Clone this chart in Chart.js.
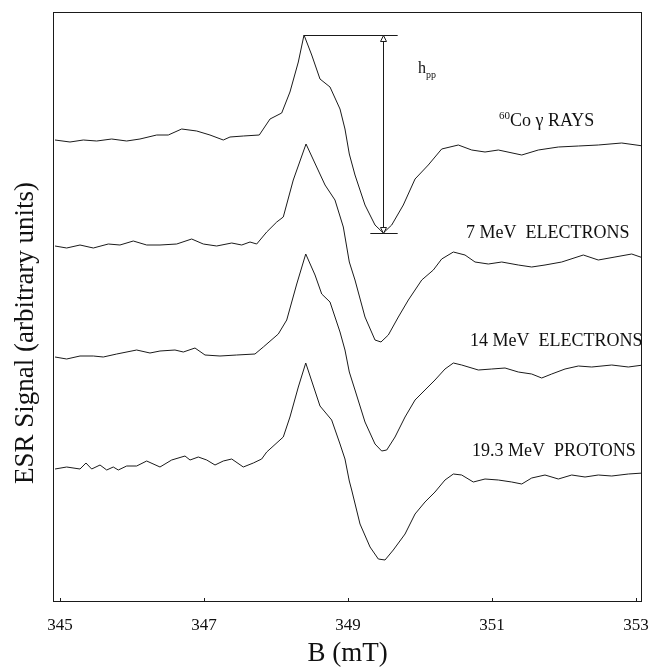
<!DOCTYPE html>
<html>
<head>
<meta charset="utf-8">
<title>ESR spectra</title>
<script src="https://cdn.jsdelivr.net/npm/chart.js@4.4.1/dist/chart.umd.min.js"></script>
<style>
	html, body { margin: 0; padding: 0; background: #fff; }
	#esrChart { display: block; }
</style>
</head>
<body>
<canvas id="esrChart" width="650" height="671"></canvas>
<script>
//ESR spectra after different irradiations, stacked with a vertical offset

//field axis ticks (mT)
const bTicks = [345, 347, 349, 351, 353];

//60Co gamma rays
const coField = [344.931, 345.139, 345.324, 345.510, 345.718, 345.926, 346.111, 346.343, 346.504, 346.690,
	346.899, 347.083, 347.268, 347.361, 347.546, 347.768, 347.917, 348.079, 348.194, 348.310,
	348.389, 348.496, 348.611, 348.750, 348.889, 348.958, 349.018, 349.097, 349.236, 349.375,
	349.490, 349.607, 349.768, 349.931, 350.115, 350.301, 350.532, 350.718, 350.903, 351.088,
	351.413, 351.643, 351.921, 352.199, 352.476, 352.801, 353.101];
const coSignal = [462, 460, 462, 461, 463, 461, 463, 467, 467, 473,
	471, 467, 462, 465, 466, 467, 483, 489, 510, 540,
	567, 547, 523, 515, 493, 473, 448, 427, 397, 377,
	369, 377, 397, 423, 437, 453, 457, 452, 450, 452,
	447, 452, 455, 456, 457, 459, 456];

//7 MeV electrons
const e7Field = [344.931, 345.093, 345.278, 345.463, 345.671, 345.833, 346.018, 346.204, 346.389, 346.621,
	346.829, 346.990, 347.176, 347.385, 347.524, 347.639, 347.732, 347.871, 348.010, 348.101,
	348.240, 348.417, 348.565, 348.681, 348.819, 348.935, 349.018, 349.097, 349.236, 349.375,
	349.458, 349.560, 349.699, 349.838, 350.024, 350.185, 350.301, 350.463, 350.625, 350.764,
	350.949, 351.135, 351.365, 351.551, 351.736, 351.968, 352.268, 352.476, 352.708, 352.940, 353.101];
const e7Signal = [356, 354, 357, 354, 358, 357, 361, 357, 357, 358,
	363, 358, 356, 359, 357, 360, 358, 370, 380, 385,
	422, 458, 435, 417, 402, 375, 340, 322, 285, 262,
	260, 267, 285, 302, 322, 332, 343, 350, 347, 340,
	338, 340, 337, 335, 337, 340, 347, 342, 345, 348, 344];

//14 MeV electrons
const e14Field = [344.931, 345.093, 345.278, 345.463, 345.601, 345.788, 346.065, 346.250, 346.389, 346.597,
	346.713, 346.875, 347.014, 347.222, 347.454, 347.708, 347.824, 348.032, 348.149, 348.288,
	348.413, 348.542, 348.635, 348.750, 348.889, 348.958, 349.018, 349.097, 349.236, 349.375,
	349.468, 349.538, 349.653, 349.792, 349.931, 350.069, 350.208, 350.347, 350.463, 350.579,
	350.810, 350.996, 351.181, 351.365, 351.551, 351.690, 351.829, 352.014, 352.199, 352.385,
	352.663, 352.893, 353.101];
const e14Signal = [245, 243, 246, 246, 245, 248, 252, 249, 251, 252,
	250, 254, 247, 246, 247, 248, 255, 268, 282, 318,
	348, 327, 308, 300, 270, 252, 230, 212, 180, 158,
	151, 152, 165, 185, 202, 212, 222, 233, 239, 237,
	232, 233, 234, 230, 228, 224, 228, 233, 236, 235,
	237, 235, 237];

//19.3 MeV protons
const pField = [344.931, 345.093, 345.278, 345.361, 345.440, 345.556, 345.649, 345.740, 345.810, 345.926,
	346.065, 346.204, 346.389, 346.551, 346.736, 346.806, 346.921, 347.038, 347.153, 347.268,
	347.385, 347.546, 347.685, 347.801, 347.871, 348.101, 348.194, 348.310, 348.413, 348.611,
	348.773, 348.889, 348.958, 349.018, 349.051, 349.167, 349.306, 349.421, 349.514, 349.629,
	349.792, 349.931, 350.069, 350.208, 350.347, 350.463, 350.579, 350.740, 350.903, 351.088,
	351.274, 351.413, 351.551, 351.736, 351.921, 352.107, 352.292, 352.476, 352.663, 352.893, 353.101];
const pSignal = [133, 135, 133, 139, 133, 137, 132, 135, 132, 136,
	136, 141, 135, 142, 146, 142, 145, 142, 137, 141,
	143, 135, 139, 143, 150, 165, 185, 215, 239, 196,
	182, 158, 143, 121, 112, 78, 55, 43, 42, 52,
	68, 88, 100, 110, 122, 128, 127, 120, 123, 122,
	120, 118, 124, 127, 123, 127, 125, 127, 126, 128, 129];

//curve labels
const sourceNames = ['Co \u03b3 RAYS', '7 MeV  ELECTRONS', '14 MeV  ELECTRONS', '19.3 MeV  PROTONS'];
const sourceSup = ['60', '', '', ''];

const serif = "'Liberation Serif', 'Times New Roman', serif";
const ink = '#1a1a1a';

//where the labels sit (field, signal)
const labelAt = [[351.097, 476], [350.639, 364], [350.694, 256], [350.722, 146]];
const hppAt = [349.972, 529];

function series(field, signal) {
	return {
		data: field.map((b, i) => ({ x: b, y: signal[i] })),
		borderColor: ink,
		borderWidth: 1,
		pointRadius: 0,
		tension: 0,
		fill: false
	};
}

//frame, inner ticks, h_pp marker and text
const esrDecor = {
	id: 'esrDecor',
	afterDatasetsDraw(chart) {
		const { ctx, chartArea: area, scales: { x, y } } = chart;
		ctx.save();
		ctx.strokeStyle = ink;
		ctx.lineWidth = 1;
		ctx.strokeRect(area.left + 0.5, area.top + 0.5, area.right - area.left - 1, area.bottom - area.top - 1);

		ctx.beginPath();
		bTicks.forEach(v => {
			const px = Math.round(x.getPixelForValue(v)) + 0.5;
			ctx.moveTo(px, area.bottom);
			ctx.lineTo(px, area.bottom - 4);
		});
		ctx.stroke();

		//peak to peak height of the 60Co line
		const hi = Math.max(...coSignal);
		const lo = Math.min(...coSignal);
		const bHi = coField[coSignal.indexOf(hi)];
		const bLo = coField[coSignal.indexOf(lo)];
		const xa = Math.round(x.getPixelForValue(bLo)) + 0.5;
		const yTop = Math.round(y.getPixelForValue(hi)) + 0.5;
		const yBot = Math.round(y.getPixelForValue(lo)) + 0.5;
		const xEnd = x.getPixelForValue(bLo + 0.2);
		ctx.beginPath();
		ctx.moveTo(x.getPixelForValue(bHi), yTop);
		ctx.lineTo(xEnd, yTop);
		ctx.moveTo(x.getPixelForValue(bLo - 0.18), yBot);
		ctx.lineTo(xEnd, yBot);
		ctx.moveTo(xa, yTop);
		ctx.lineTo(xa, yBot);
		ctx.stroke();

		ctx.fillStyle = '#fff';
		[[yTop, 1], [yBot, -1]].forEach(([tipY, dir]) => {
			ctx.beginPath();
			ctx.moveTo(xa, tipY);
			ctx.lineTo(xa - 3, tipY + dir * 6);
			ctx.lineTo(xa + 3, tipY + dir * 6);
			ctx.closePath();
			ctx.fill();
			ctx.stroke();
		});

		ctx.fillStyle = '#111';
		ctx.textAlign = 'left';
		ctx.textBaseline = 'alphabetic';

		let tx = x.getPixelForValue(hppAt[0]);
		const ty = y.getPixelForValue(hppAt[1]);
		ctx.font = `16px ${serif}`;
		ctx.fillText('h', tx, ty);
		tx += ctx.measureText('h').width;
		ctx.font = `10px ${serif}`;
		ctx.fillText('pp', tx, ty + 5);

		sourceNames.forEach((name, i) => {
			let lx = x.getPixelForValue(labelAt[i][0]);
			const ly = y.getPixelForValue(labelAt[i][1]);
			if (sourceSup[i]) {
				ctx.font = `11px ${serif}`;
				ctx.fillText(sourceSup[i], lx, ly - 7);
				lx += ctx.measureText(sourceSup[i]).width;
			}
			ctx.font = `18px ${serif}`;
			ctx.fillText(name, lx, ly);
		});

		//y axis title
		ctx.translate(26, 333);
		ctx.rotate(-Math.PI / 2);
		ctx.textAlign = 'center';
		ctx.textBaseline = 'middle';
		ctx.font = `27px ${serif}`;
		ctx.fillText('ESR Signal (arbitrary units)', 0, 0);
		ctx.restore();
	}
};

const chart = new Chart(document.getElementById('esrChart'), {
	type: 'line',
	data: {
		datasets: [
			series(coField, coSignal),
			series(e7Field, e7Signal),
			series(e14Field, e14Signal),
			series(pField, pSignal)
		]
	},
	options: {
		responsive: false,
		animation: false,
		layout: { padding: { left: 53, right: 8, top: 12, bottom: 0 } },
		plugins: {
			legend: { display: false },
			tooltip: { enabled: false }
		},
		scales: {
			x: {
				type: 'linear',
				min: 344.903,
				max: 353.083,
				afterBuildTicks: axis => { axis.ticks = bTicks.map(v => ({ value: v })); },
				//fixed band under the plot, end labels may hang over the frame
				afterFit: axis => {
					axis.height = 69;
					axis.paddingLeft = 0;
					axis.paddingRight = 0;
				},
				grid: { display: false, drawTicks: false },
				border: { display: false },
				ticks: {
					color: '#111',
					padding: 13,
					maxRotation: 0,
					autoSkip: false,
					font: { family: serif, size: 17 }
				},
				title: {
					display: true,
					text: 'B (mT)',
					color: '#111',
					font: { family: serif, size: 27 },
					padding: { top: 2, bottom: 1 }
				}
			},
			y: {
				display: false,
				min: 0,
				max: 590
			}
		}
	},
	plugins: [esrDecor]
});
</script>
</body>
</html>
